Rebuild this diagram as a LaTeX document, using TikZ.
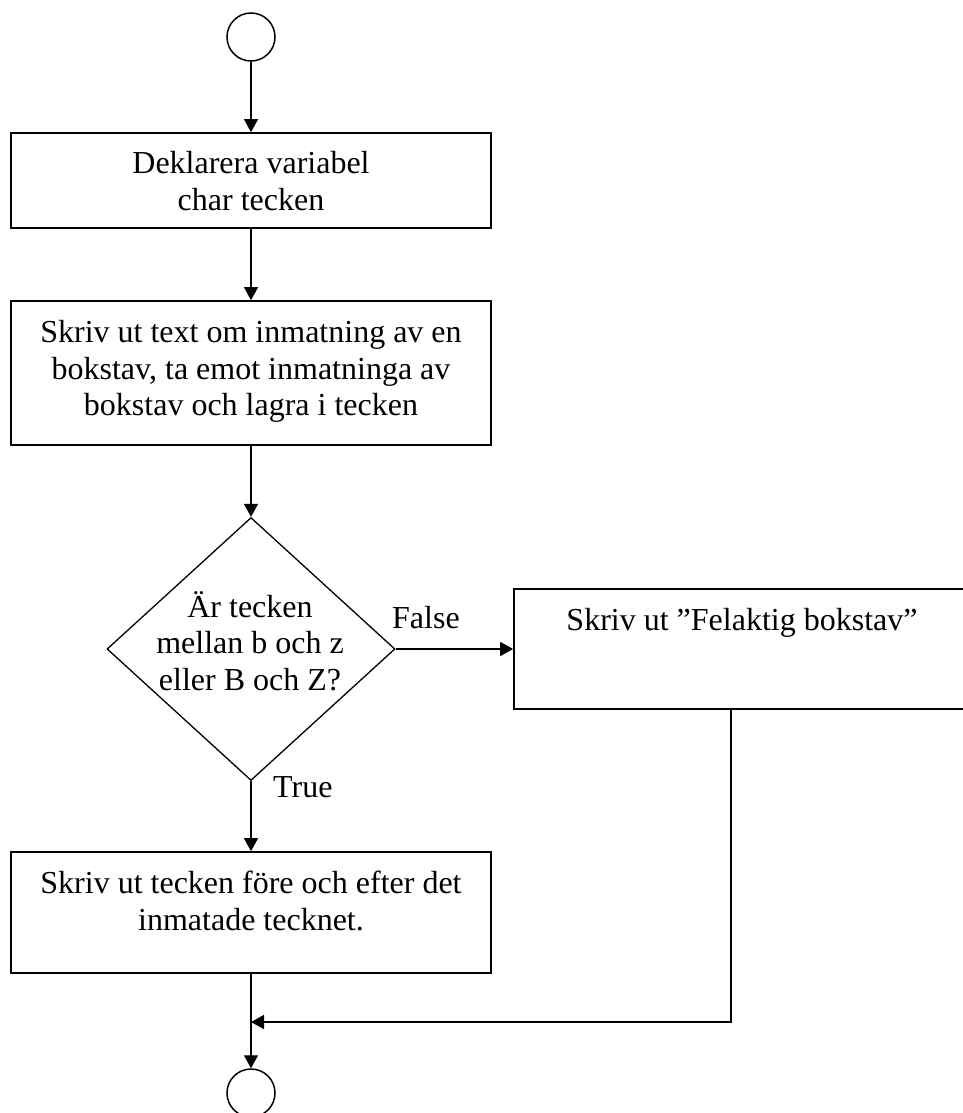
\documentclass[tikz,border=0pt]{standalone}
\usepackage{fontspec}
\setmainfont{Liberation Serif}
\usetikzlibrary{shapes.geometric,arrows.meta}
\tikzset{
  boxshape/.style={draw, line width=1.7pt, rectangle, inner sep=0pt},
  circshape/.style={draw, line width=1.5pt, circle, inner sep=0pt, minimum size=48pt},
  decshape/.style={draw, line width=1.3pt, diamond, inner sep=0pt, aspect=1.095},
  txt/.style={inner sep=0pt, anchor=base, font=\fontsize{32}{37}\selectfont},
  lbl/.style={inner sep=0pt, anchor=base west, font=\fontsize{32}{37}\selectfont},
  arr/.style={line width=1.4pt, -{Triangle[length=13pt,width=14pt]}},
  ln/.style={line width=1.4pt}
}
\begin{document}
\begin{tikzpicture}[x=1pt,y=-1pt]
\useasboundingbox (0,0) rectangle (962,1113);
% shapes
\node[circshape] (c1) at (251,37) {};
\node[boxshape, minimum width=480pt, minimum height=95pt] (b1) at (251,180.5) {};
\node[boxshape, minimum width=480pt, minimum height=144pt] (b2) at (251,373) {};
\node[decshape, minimum width=288pt, minimum height=263pt] (d) at (251,649) {};
\node[boxshape, minimum width=456pt, minimum height=120pt] (b3) at (742,649) {};
\node[boxshape, minimum width=480pt, minimum height=121pt] (b4) at (251,912.5) {};
\node[circshape] (c2) at (251,1093) {};
% texts
\node[txt] (t1a) at (251,173) {Deklarera variabel};
\node[txt] (t1b) at (251,210) {char tecken};
\node[txt] (t2a) at (251,342) {Skriv ut text om inmatning av en};
\node[txt] (t2b) at (251,379) {bokstav, ta emot inmatninga av};
\node[txt] (t2c) at (251,415) {bokstav och lagra i tecken};
\node[txt] (tda) at (250,617) {Är tecken};
\node[txt] (tdb) at (250,653) {mellan b och z};
\node[txt] (tdc) at (250,690) {eller B och Z?};
\node[txt] (t3) at (742,630) {Skriv ut ”Felaktig bokstav”};
\node[txt] (t4a) at (251,893) {Skriv ut tecken före och efter det};
\node[txt] (t4b) at (251,930) {inmatade tecknet.};
\node[lbl] (lf) at (392,628) {False};
\node[lbl] (lt) at (273,797) {True};
% connectors
\coordinate (j) at (731,1022);
\coordinate (m) at (251,1022);
\draw[arr] (c1.south) -- (b1.north);
\draw[arr] (b1.south) -- (b2.north);
\draw[arr] (b2.south) -- (d.north);
\draw[arr] (d.east) -- (b3.west);
\draw[arr] (d.south) -- (b4.north);
\draw[arr] (b4.south) -- (c2.north);
\draw[arr] (b3.south -| j) -- (j) -- (m);
\end{tikzpicture}
\end{document}
